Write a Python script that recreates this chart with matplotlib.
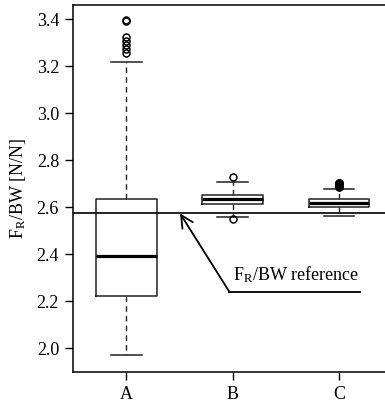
import matplotlib
matplotlib.use('Agg')
import matplotlib.pyplot as plt

# box statistics
labels = ['A', 'B', 'C']
q1 = [2.222, 2.613, 2.600]
med = [2.390, 2.633, 2.616]
q3 = [2.633, 2.651, 2.633]
whislo = [1.969, 2.556, 2.562]
whishi = [3.216, 2.708, 2.678]
fliers_A = [3.254, 3.272, 3.289, 3.308, 3.325, 3.391, 3.396]
fliers_B = [2.550, 2.728]
fliers_C = [2.686, 2.689, 2.692, 2.695, 2.698, 2.701, 2.704]
ref_value = 2.573
yticks = [2.0, 2.2, 2.4, 2.6, 2.8, 3.0, 3.2, 3.4]

plt.rcParams['font.family'] = ['Liberation Serif', 'DejaVu Serif']
plt.rcParams['mathtext.fontset'] = 'custom'
plt.rcParams['mathtext.rm'] = 'Liberation Serif'
plt.rcParams['mathtext.it'] = 'Liberation Serif'

fig = plt.figure(figsize=(3.85, 4.03), dpi=100)
ax = fig.add_axes([73/385, 1-372/403, 1-73/385, (372-5)/403])

stats = []
for i, fl in enumerate([fliers_A, fliers_B, fliers_C]):
    stats.append(dict(label=labels[i], q1=q1[i], med=med[i], q3=q3[i],
                      whislo=whislo[i], whishi=whishi[i], fliers=fl))

ax.bxp(stats, positions=[1, 2, 3], widths=0.57, capwidths=0.29,
       boxprops=dict(color='#222222', linewidth=1.1),
       medianprops=dict(color='black', linewidth=2.3),
       whiskerprops=dict(color='#222222', linewidth=1.0, linestyle=(0, (4, 3))),
       capprops=dict(color='#222222', linewidth=1.1),
       flierprops=dict(marker='o', markerfacecolor='none', markeredgecolor='black',
                       markersize=5, markeredgewidth=1.1))
# C outliers drawn filled in the reference (overlapping circles)
ax.plot([3]*len(fliers_C), fliers_C, 'o', color='black', markersize=5)

ax.axhline(ref_value, color='black', linewidth=1.2)
ax.annotate('', xy=(1.504, ref_value), xytext=(1.967, 2.240),
            arrowprops=dict(arrowstyle='->', color='black', lw=1.3,
                            mutation_scale=22, shrinkA=0, shrinkB=0))
ax.plot([1.967, 3.198], [2.240, 2.240], color='black', linewidth=1.3)
ax.text(2.0, 2.287, 'F$_\\mathrm{R}$/BW reference', fontsize=13, va='baseline', ha='left')

ax.set_xlim(0.4965, 3.433)
ax.set_ylim(1.898, 3.46)
ax.set_yticks(yticks)
ax.set_yticklabels(['%.1f' % v for v in yticks])
ax.set_xticks([1, 2, 3])
ax.set_xticklabels(labels)
ax.tick_params(direction='out', length=6, width=1, labelsize=13, pad=4)
ax.spines['right'].set_visible(False)
for s in ['left', 'top', 'bottom']:
    ax.spines[s].set_linewidth(1.1)
ax.set_ylabel('F$_\\mathrm{R}$/BW [N/N]', fontsize=13, labelpad=6)

fig.savefig('out.png', dpi=100)
